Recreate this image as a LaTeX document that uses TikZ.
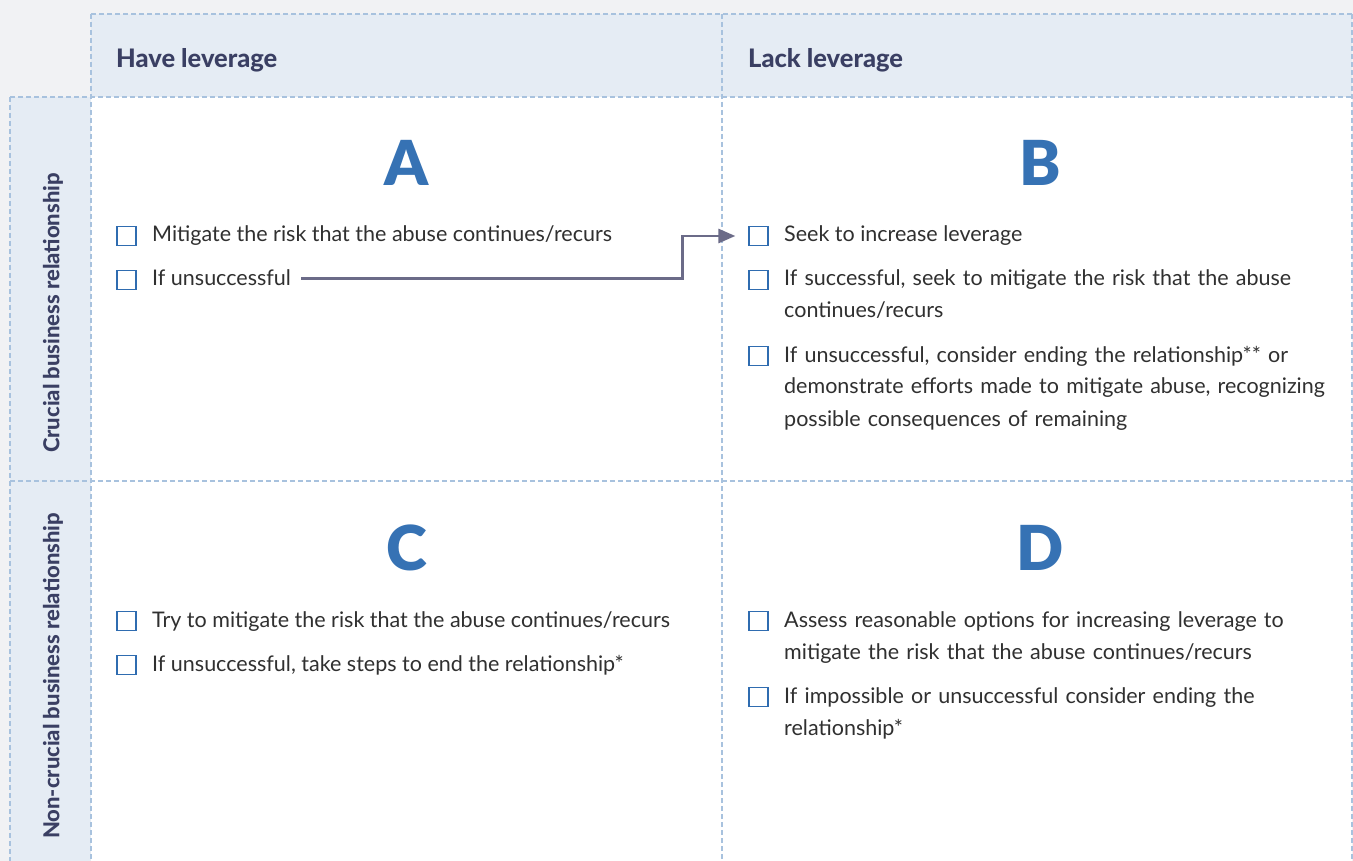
\documentclass[tikz,border=0pt]{standalone}
\usepackage{fontspec}
\setmainfont{Lato}
\newfontfamily\blackfont{Lato Black}
\newfontfamily\heavyfont{Lato Heavy}
\usetikzlibrary{arrows.meta,positioning}
\definecolor{bggray}{HTML}{F1F2F4}
\definecolor{headfill}{HTML}{E5ECF4}
\definecolor{dashblue}{HTML}{A8C2DE}
\definecolor{headtext}{HTML}{3A3F63}
\definecolor{letterblue}{HTML}{3672B4}
\definecolor{bodytext}{HTML}{303030}
\definecolor{boxblue}{HTML}{2F6CB0}
\definecolor{arrowgray}{HTML}{6B6B88}
\tikzset{
  grid/.style={dashblue,line width=2pt,dash pattern=on 5pt off 3pt},
  head/.style={anchor=base west,inner sep=0pt,text=headtext,font=\fontsize{25.5}{30}\selectfont\heavyfont},
  side/.style={rotate=90,inner sep=0pt,text=headtext,font=\fontsize{22}{26}\selectfont\heavyfont},
  letter/.style={anchor=base,inner sep=0pt,text=letterblue,font=\fontsize{62}{70}\selectfont\blackfont},
  chkbox/.style={draw=boxblue,line width=1.3pt,minimum size=19pt,inner sep=0pt},
  item/.style={anchor=base west,inner sep=0pt,align=left,text=bodytext,font=\fontsize{21.5}{32}\selectfont},
  wide/.style={text width=560pt},
  flow/.style={arrowgray,line width=2.8pt,-{Triangle[length=17pt,width=14pt]}}
}
\begin{document}
\begin{tikzpicture}[x=1pt,y=-1pt]
	\useasboundingbox (0,0) rectangle (1353,861);
	% background and header bands
	\fill[bggray] (0,0) rectangle (1353,861);
	\fill[headfill] (91,14) rectangle (1352,97);
	\fill[headfill] (10,97) rectangle (91,861);
	\fill[white] (91,97) rectangle (1352,861);
	% dashed grid
	\draw[grid] (91,14) -- (1352,14);
	\draw[grid] (10,97) -- (1352,97);
	\draw[grid] (10,481) -- (1352,481);
	\draw[grid] (10,97) -- (10,861);
	\draw[grid] (91,14) -- (91,861);
	\draw[grid] (722,14) -- (722,861);
	\draw[grid] (1352,14) -- (1352,861);
	% headers
	\node[head] (have) at (116,68) {Have leverage};
	\node[head] (lack) at (748,68) {Lack leverage};
	\node[side] (crucial) at (53,313) {Crucial business relationship};
	\node[side] (noncrucial) at (53,676) {Non-crucial business relationship};
	% quadrant letters
	\node[letter] (qa) at (406.5,186) {A};
	\node[letter] (qb) at (1040,186) {B};
	\node[letter] (qc) at (406.5,570) {C};
	\node[letter] (qd) at (1040,570) {D};
	% A
	\node[chkbox] (a1box) at (126.5,236) {};
	\node[item] (a1) at (152,242) {Mitigate the risk that the abuse continues/recurs};
	\node[chkbox] (a2box) at (126.5,280) {};
	\node[item] (a2) at (152,286) {If unsuccessful};
	% B
	\node[chkbox] (b1box) at (758.5,236) {};
	\node[item] (b1) at (784,242) {Seek to increase leverage};
	\node[chkbox] (b2box) at (758.5,280) {};
	\node[item,wide] (b2) at (784,286) {If successful, seek to mitigate the risk that the abuse\\continues/recurs};
	\node[chkbox] (b3box) at (758.5,356) {};
	\node[item,wide] (b3) at (784,362) {If unsuccessful, consider ending the relationship** or\\demonstrate efforts made to mitigate abuse, recognizing\\possible consequences of remaining};
	% C
	\node[chkbox] (c1box) at (126.5,621) {};
	\node[item] (c1) at (152,627) {Try to mitigate the risk that the abuse continues/recurs};
	\node[chkbox] (c2box) at (126.5,665) {};
	\node[item] (c2) at (152,671) {If unsuccessful, take steps to end the relationship*};
	% D
	\node[chkbox] (d1box) at (758.5,621) {};
	\node[item,wide] (d1) at (784,627) {Assess reasonable options for increasing leverage to\\mitigate the risk that the abuse continues/recurs};
	\node[chkbox] (d2box) at (758.5,697) {};
	\node[item,wide] (d2) at (784,703) {If impossible or unsuccessful consider ending the\\relationship*};
	% arrow from A to B
	\draw[flow] ([xshift=10pt]a2.east) -| ([xshift=-66pt]b1box.west) -- ([xshift=-13pt]b1box.west);
\end{tikzpicture}
\end{document}
